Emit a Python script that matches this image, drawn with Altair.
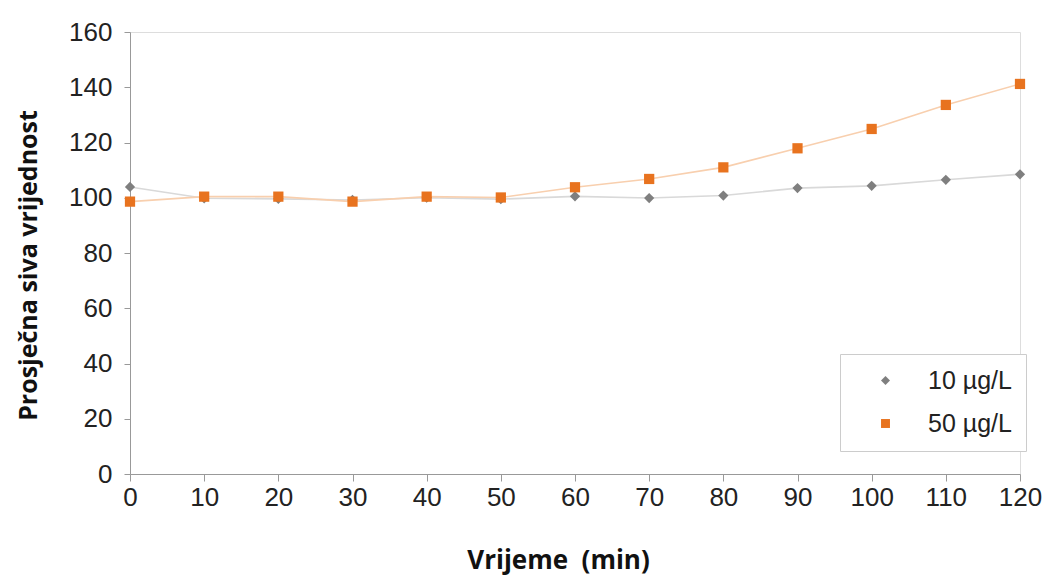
import altair as alt
import pandas as pd

times = [0, 10, 20, 30, 40, 50, 60, 70, 80, 90, 100, 110, 120]
s10 = [103.9, 99.8, 99.6, 99.2, 100.0, 99.5, 100.5, 99.9, 100.8, 103.5, 104.3, 106.5, 108.5]
s50 = [98.6, 100.4, 100.4, 98.6, 100.4, 100.1, 103.8, 106.8, 111.0, 117.9, 124.9, 133.6, 141.2]
series = ["10 µg/L", "50 µg/L"]
point_colors = ["#7f7f7f", "#e8731f"]
line_colors = ["#d9d9d9", "#f8cfae"]

rows = []
for t, v in zip(times, s10):
    rows.append({"t": t, "v": v, "s": series[0]})
for t, v in zip(times, s50):
    rows.append({"t": t, "v": v, "s": series[1]})
df = pd.DataFrame(rows)

x = alt.X("t:Q", scale=alt.Scale(domain=[0, 120], nice=False, zero=False),
          axis=alt.Axis(values=times, title="Vrijeme\u00a0\u00a0(min)", grid=False,
                        labelFontSize=26, labelFont="Liberation Sans", labelColor="#222",
                        labelPadding=3, labelFlush=False, labelOverlap=False,
                        tickSize=7, tickColor="#999", domainColor="#999",
                        titleFont="Open Sans", titleFontSize=26, titleFontWeight="bold",
                        titleColor="#111", titlePadding=37, titleX=428))
y = alt.Y("v:Q", scale=alt.Scale(domain=[0, 160], nice=False),
          axis=alt.Axis(values=list(range(0, 161, 20)), title="Prosječna siva vrijednost",
                        grid=False, labelFontSize=26, labelFont="Liberation Sans",
                        labelColor="#222", labelPadding=12, tickSize=6, tickColor="#999",
                        domainColor="#999", titleFont="Open Sans", titleFontSize=25,
                        titleFontWeight="bold", titleColor="#111", titlePadding=27,
                        titleY=233))

base = alt.Chart(df)
line_layers = [
    base.transform_filter(alt.datum.s == s).mark_line(strokeWidth=1.6, color=c).encode(x=x, y=y)
    for s, c in zip(series, line_colors)
]

leg = alt.Legend(title=None, orient="none", legendX=710, legendY=322,
                 labelFontSize=25, labelFont="Liberation Sans", labelColor="#222",
                 symbolSize=80, rowPadding=17, padding=14, strokeColor="#cccccc",
                 fillColor="white", symbolOffset=19, labelOffset=30, labelLimit=220,
                 symbolStrokeWidth=0)

points = base.mark_point(filled=True, size=105, opacity=1).encode(
    x=x, y=y,
    color=alt.Color("s:N", scale=alt.Scale(domain=series, range=point_colors), legend=leg),
    shape=alt.Shape("s:N", scale=alt.Scale(domain=series, range=["diamond", "square"]), legend=leg),
)

chart = alt.layer(*line_layers, points).properties(
    width=890, height=442,
    autosize=alt.AutoSizeParams(type="none"),
    padding={"left": 122, "top": 24, "right": 22, "bottom": 110},
).configure_view(stroke=None).configure(background="white")

chart.save("out.html", embed_options={"renderer": "svg", "actions": False})
